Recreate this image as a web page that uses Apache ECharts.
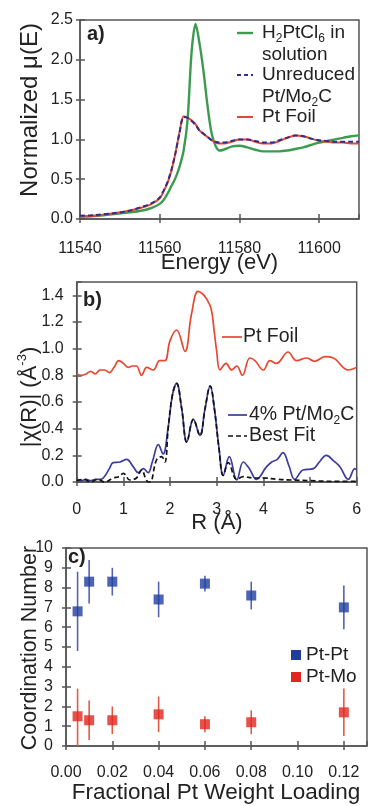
<!DOCTYPE html>
<html><head><meta charset="utf-8">
<script src="https://cdn.jsdelivr.net/npm/echarts@6/dist/echarts.min.js"></script>
<style>html,body{margin:0;padding:0;background:#fff}#c{width:369px;height:806px}</style>
</head><body><div id="c"></div>
<script>
// ---------- Panel a: XANES ----------
const energy = [11540,11544,11548,11552,11556,11558,11560,11561,11562,11563,11564,11565,11566,11567,11568,11569,11570,11571,11572,11573,11574,11575,11576,11578,11580,11582,11584,11586,11588,11590,11592,11594,11596,11598,11600,11602,11604,11606,11608,11610];
const h2ptcl6 = [0.03,0.04,0.06,0.08,0.11,0.14,0.19,0.24,0.32,0.42,0.52,0.66,0.86,1.25,2.1,2.45,2.2,1.85,1.42,1.08,0.92,0.86,0.87,0.91,0.92,0.90,0.87,0.85,0.85,0.85,0.86,0.88,0.90,0.93,0.96,0.98,1.00,1.02,1.04,1.05];
const unreduced = [0.04,0.05,0.07,0.10,0.16,0.20,0.27,0.36,0.47,0.63,0.84,1.09,1.28,1.27,1.23,1.18,1.11,1.07,1.03,0.99,0.97,0.96,0.96,0.98,1.00,1.00,0.98,0.96,0.96,0.99,1.02,1.05,1.04,1.01,0.99,0.98,0.97,0.97,0.97,0.97];
const ptFoilA = [0.03,0.04,0.07,0.10,0.15,0.19,0.26,0.35,0.46,0.62,0.84,1.10,1.29,1.27,1.24,1.19,1.11,1.07,1.03,0.99,0.96,0.95,0.95,0.97,1.00,1.00,0.97,0.95,0.95,0.98,1.02,1.05,1.04,1.01,0.98,0.97,0.96,0.96,0.95,0.95];

// ---------- Panel b: EXAFS ----------
const rFoil = [0.0,0.1,0.2,0.3,0.4,0.5,0.6,0.7,0.8,0.9,1.0,1.1,1.2,1.28,1.39,1.5,1.64,1.78,1.89,2.0,2.14,2.32,2.46,2.6,2.7,2.78,2.88,2.95,3.0,3.07,3.2,3.32,3.43,3.55,3.71,3.82,4.0,4.14,4.28,4.53,4.71,4.93,5.1,5.32,5.5,5.82,6.0];
const chiFoil = [0.81,0.80,0.81,0.83,0.81,0.84,0.84,0.82,0.86,0.91,0.89,0.86,0.87,0.87,0.80,0.86,0.84,0.91,0.91,1.06,1.14,0.98,1.26,1.43,1.41,1.375,1.30,1.12,0.98,0.84,0.89,0.84,0.87,0.80,0.93,0.91,0.84,0.91,0.89,0.975,0.91,0.93,0.905,0.94,0.93,0.84,0.86];
const rSample = [0.0,0.1,0.2,0.3,0.4,0.5,0.57,0.7,0.78,0.93,1.07,1.21,1.32,1.43,1.53,1.62,1.75,1.85,1.96,2.05,2.14,2.25,2.36,2.5,2.64,2.75,2.86,2.95,3.05,3.14,3.27,3.43,3.57,3.7,3.85,4.07,4.18,4.3,4.42,4.55,4.67,4.85,5.07,5.2,5.35,5.5,5.64,5.82,5.96,6.0];
const chiSample = [0.02,0.01,0.02,0.01,0.02,0.02,0.03,0.10,0.145,0.15,0.17,0.115,0.07,0.10,0.07,0.15,0.28,0.21,0.41,0.65,0.74,0.55,0.30,0.47,0.35,0.55,0.72,0.55,0.25,0.05,0.19,0.015,0.15,0.10,0.02,0.115,0.15,0.17,0.22,0.12,0.02,0.09,0.10,0.15,0.20,0.16,0.115,0.02,0.10,0.09];
const rFit = [0.0,0.15,0.3,0.45,0.6,0.78,0.9,1.0,1.14,1.28,1.39,1.5,1.57,1.71,1.82,1.89,1.96,2.05,2.14,2.25,2.36,2.5,2.64,2.75,2.86,2.95,3.05,3.14,3.25,3.43,3.57,3.8,4.0,4.3,4.6,5.0,5.5,6.0];
const chiFit = [0.01,0.02,0.0,0.02,0.0,0.03,0.04,0.065,0.015,0.03,0.09,0.01,0.0,0.165,0.19,0.15,0.40,0.65,0.74,0.55,0.30,0.47,0.35,0.55,0.72,0.55,0.25,0.05,0.145,0.02,0.04,0.03,0.03,0.02,0.015,0.01,0.005,0.005];

// ---------- Panel c: coordination numbers ----------
const loading = [0.005,0.01,0.02,0.04,0.06,0.08,0.12];
const cnPtPt = [6.8,8.3,8.3,7.4,8.2,7.6,7.0];
const cnPtPtLow = [4.8,7.2,7.6,6.5,7.8,6.9,5.9];
const cnPtPtHigh = [8.8,9.4,9.0,8.3,8.6,8.3,8.1];
const cnPtMo = [1.5,1.3,1.3,1.6,1.1,1.2,1.7];
const cnPtMoLow = [0.0,0.3,0.6,0.7,0.7,0.6,0.5];
const cnPtMoHigh = [2.9,2.3,2.0,2.5,1.5,1.8,2.9];

const FONT = 'Liberation Sans, Arial, Helvetica, sans-serif';
const AX = '#555';
const TXT = '#222';
const GREEN = '#3d9b50', RED = '#e8472f', NAVY = '#2e2e8c', BLUE2 = '#3c3c9c';
const SQ_BLUE = '#1f3d9e', SQ_RED = '#e0261e';

const zip = (xs, ys) => xs.map((x, i) => [x, ys[i]]);

function axisPair(dim, grid, min, max, interval, fmt, margin) {
  const main = {
    type: 'value', gridIndex: grid, min, max, interval,
    position: dim === 'x' ? 'bottom' : 'left',
    axisLine: { show: true, lineStyle: { color: AX, width: 1.5 } },
    axisTick: { show: true, inside: false, length: 4, lineStyle: { color: AX, width: 1.5 } },
    axisLabel: { show: true, formatter: fmt, margin, fontSize: 16, color: TXT, fontFamily: FONT, showMaxLabel: false, showMinLabel: true },
    splitLine: { show: false }
  };
  const dup = {
    type: 'value', gridIndex: grid, min, max, interval,
    position: dim === 'x' ? 'bottom' : 'left',
    axisLine: { show: false },
    axisTick: { show: true, inside: true, length: 5, lineStyle: { color: AX, width: 1.5 } },
    axisLabel: { show: false }, splitLine: { show: false }
  };
  return [main, dup];
}

const xA = axisPair('x', 0, 11540, 11610, 20, v => String(v), 22);
const yA = axisPair('y', 0, 0, 2.5, 0.5, v => v.toFixed(1), 7);
yA[0].axisLabel.showMaxLabel = true;
const xB = axisPair('x', 1, 0, 6, 1, v => String(v), 20);
xB[0].axisLabel.showMaxLabel = true;
const yB = axisPair('y', 1, 0, 1.5, 0.2, v => v.toFixed(1), 13);
const xC = axisPair('x', 2, 0, 0.13, 0.02, v => v.toFixed(2), 19);
const yC = axisPair('y', 2, 0, 10, 1, v => String(v), 13);
yC[0].axisLabel.showMaxLabel = true;

function lineSeries(name, xs, ys, color, width, dash, xi, yi, smooth, z) {
  return {
    name, type: 'line', xAxisIndex: xi, yAxisIndex: yi, data: zip(xs, ys),
    showSymbol: false, symbol: 'none', smooth, z,
    lineStyle: { color, width, type: dash || 'solid' }, silent: true
  };
}

function errSeries(xs, lo, hi, color) {
  return {
    type: 'custom', xAxisIndex: 4, yAxisIndex: 4, silent: true, z: 2,
    data: xs.map((x, i) => [x, lo[i], hi[i]]),
    encode: { x: 0, y: [1, 2] },
    renderItem: (params, api) => {
      const p1 = api.coord([api.value(0), api.value(1)]);
      const p2 = api.coord([api.value(0), api.value(2)]);
      return { type: 'line', shape: { x1: p1[0], y1: p1[1], x2: p2[0], y2: p2[1] },
               style: { stroke: color, lineWidth: 1.6 } };
    }
  };
}

function scatterSeries(name, xs, ys, color) {
  return { name, type: 'scatter', xAxisIndex: 4, yAxisIndex: 4, data: zip(xs, ys),
    symbol: 'rect', symbolSize: 10, itemStyle: { color }, z: 3, silent: true };
}

function txt(text, x, y, size, opts) {
  opts = opts || {};
  return {
    type: 'text', x, y, rotation: opts.rot || 0, z: 100,
    style: {
      text, fontSize: size, fontFamily: FONT, fill: TXT,
      fontWeight: opts.bold ? 'bold' : 'normal',
      align: opts.align || 'left', verticalAlign: 'middle', rich: opts.rich
    }
  };
}
function seg(x1, y1, x2, y2, color, width, dash) {
  return { type: 'line', z: 100, shape: { x1, y1, x2, y2 },
    style: { stroke: color, lineWidth: width, lineDash: dash || null } };
}
function sq(cx, cy, s, color) {
  return { type: 'rect', z: 100, shape: { x: cx - s / 2, y: cy - s / 2, width: s, height: s }, style: { fill: color } };
}

const subRich = { s: { fontSize: 12, fontFamily: FONT, fill: TXT, verticalAlign: 'bottom', lineHeight: 24 } };
const supRich = { p: { fontSize: 13, fontFamily: FONT, fill: TXT, verticalAlign: 'top', lineHeight: 28 } };

const gridBase = { show: true, borderColor: AX, borderWidth: 1.5, containLabel: false, outerBoundsMode: 'none' };

const option = {
  animation: false,
  backgroundColor: '#fff',
  grid: [
    Object.assign({ left: 80, top: 20, width: 279, height: 199 }, gridBase),
    Object.assign({ left: 76.7, top: 282, width: 280, height: 200 }, gridBase),
    Object.assign({ left: 66, top: 548, width: 301, height: 198 }, gridBase)
  ],
  xAxis: [...xA, ...xB, ...xC],
  yAxis: [...yA, ...yB, ...yC],
  series: [
    lineSeries('H2PtCl6 in solution', energy, h2ptcl6, GREEN, 2.4, null, 0, 0, 0.3, 3),
    lineSeries('Pt Foil', energy, ptFoilA, RED, 2, null, 0, 0, 0.3, 4),
    lineSeries('Unreduced Pt/Mo2C', energy, unreduced, NAVY, 2, [5, 3], 0, 0, 0.3, 5),
    lineSeries('Pt Foil (EXAFS)', rFoil, chiFoil, RED, 1.7, null, 2, 2, 0.4, 3),
    lineSeries('4% Pt/Mo2C', rSample, chiSample, BLUE2, 1.7, null, 2, 2, 0.4, 4),
    lineSeries('Best Fit', rFit, chiFit, '#111', 1.7, [5, 3], 2, 2, 0.4, 5),
    errSeries(loading, cnPtPtLow, cnPtPtHigh, '#5563b5'),
    errSeries(loading, cnPtMoLow, cnPtMoHigh, '#e55a45'),
    scatterSeries('Pt-Pt', loading, cnPtPt, SQ_BLUE),
    scatterSeries('Pt-Mo', loading, cnPtMo, SQ_RED)
  ],
  graphic: [
    // panel labels
    txt('a)', 87, 34, 20, { bold: true }),
    txt('b)', 83, 300, 20, { bold: true }),
    txt('c)', 68, 557, 20, { bold: true }),
    // axis titles
    txt('Normalized μ(E)', 30, 110, 24, { rot: Math.PI / 2, align: 'center' }),
    txt('Energy (eV)', 219.5, 263, 22, { align: 'center' }),
    txt('|χ(R)| (Å{p|-3})', 30, 397, 22, { rot: Math.PI / 2, align: 'center', rich: supRich }),
    txt('R (Å)', 217, 523, 22, { align: 'center' }),
    txt('Coordination Number', 30, 648, 21.5, { rot: Math.PI / 2, align: 'center' }),
    txt('Fractional Pt Weight Loading', 216, 793, 22.5, { align: 'center' }),
    // legend a
    seg(237, 33, 253, 33, GREEN, 2.4),
    txt('H{s|2}PtCl{s|6} in', 262, 33, 19, { rich: subRich }),
    txt('solution', 262, 55, 19),
    seg(237, 75, 253, 75, NAVY, 2, [4, 3]),
    txt('Unreduced', 262, 75, 19),
    txt('Pt/Mo{s|2}C', 262, 97, 19, { rich: subRich }),
    seg(237, 117, 253, 117, RED, 2),
    txt('Pt Foil', 262, 117, 19),
    // legend b
    seg(222, 337, 242, 337, RED, 1.7),
    txt('Pt Foil', 243, 337, 19.5),
    seg(228, 415, 247, 415, BLUE2, 1.7),
    txt('4% Pt/Mo{s|2}C', 249, 415, 19.5, { rich: subRich }),
    seg(228, 436, 247, 436, '#111', 1.7, [5, 3]),
    txt('Best Fit', 249, 436, 19.5),
    // legend c
    sq(296, 655, 10, SQ_BLUE),
    txt('Pt-Pt', 306, 655, 19),
    sq(296, 677, 10, SQ_RED),
    txt('Pt-Mo', 306, 677, 19)
  ]
};

const chart = echarts.init(document.getElementById('c'), null, { renderer: 'canvas' });
chart.setOption(option);
</script>
</body></html>
